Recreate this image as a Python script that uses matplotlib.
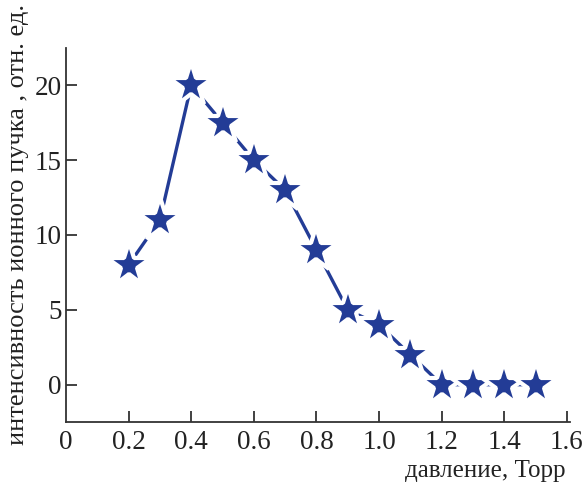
import matplotlib.pyplot as plt

# давление (Торр) и интенсивность пучка
davlenie = [0.2, 0.3, 0.4, 0.5, 0.6, 0.7, 0.8, 0.9, 1.0, 1.1, 1.2, 1.3, 1.4, 1.5]
intensivnost = [8, 11, 20, 17.5, 15, 13, 9, 5, 4, 2, 0, 0, 0, 0]

x_ticks = [0, 0.2, 0.4, 0.6, 0.8, 1.0, 1.2, 1.4, 1.6]
x_labels = ['0', '0.2', '0.4', '0.6', '0.8', '1.0', '1.2', '1.4', '1.6']
y_ticks = [0, 5, 10, 15, 20]

plt.rcParams['font.family'] = ['Liberation Serif', 'DejaVu Serif']

fig = plt.figure(figsize=(5.84, 4.88), dpi=100)
ax = fig.add_axes([0.113, 0.135, 0.863, 0.767])

cvet = '#233c96'
ax.plot(davlenie, intensivnost, color=cvet, lw=2.4, marker='*', ms=33,
        mfc=cvet, mec='white', mew=3, clip_on=False)

ax.set_xlim(0, 1.61)
ax.set_ylim(-2.5, 22.5)
ax.set_xticks(x_ticks)
ax.set_xticklabels(x_labels)
ax.set_yticks(y_ticks)

for s in ['top', 'right']:
    ax.spines[s].set_visible(False)
for s in ['left', 'bottom']:
    ax.spines[s].set_color('#333333')
    ax.spines[s].set_linewidth(1.3)

ax.tick_params(direction='in', length=8, width=1.3, color='#333333',
               labelsize=19.5, labelcolor='#222222')
ax.tick_params(axis='x', pad=6)
ax.tick_params(axis='y', pad=3)
# подпись 0 у начала оси не дублируем засечкой
ax.xaxis.get_major_ticks()[0].tick1line.set_visible(False)

fig.text(0.969, 0.012, 'давление, Торр', ha='right', va='bottom',
         fontsize=18, color='#222222')
fig.text(0.012, 0.992, 'интенсивность ионного пучка , отн. ед.', rotation=90,
         ha='left', va='top', fontsize=19, color='#222222')

fig.savefig('out.png', dpi=100)
